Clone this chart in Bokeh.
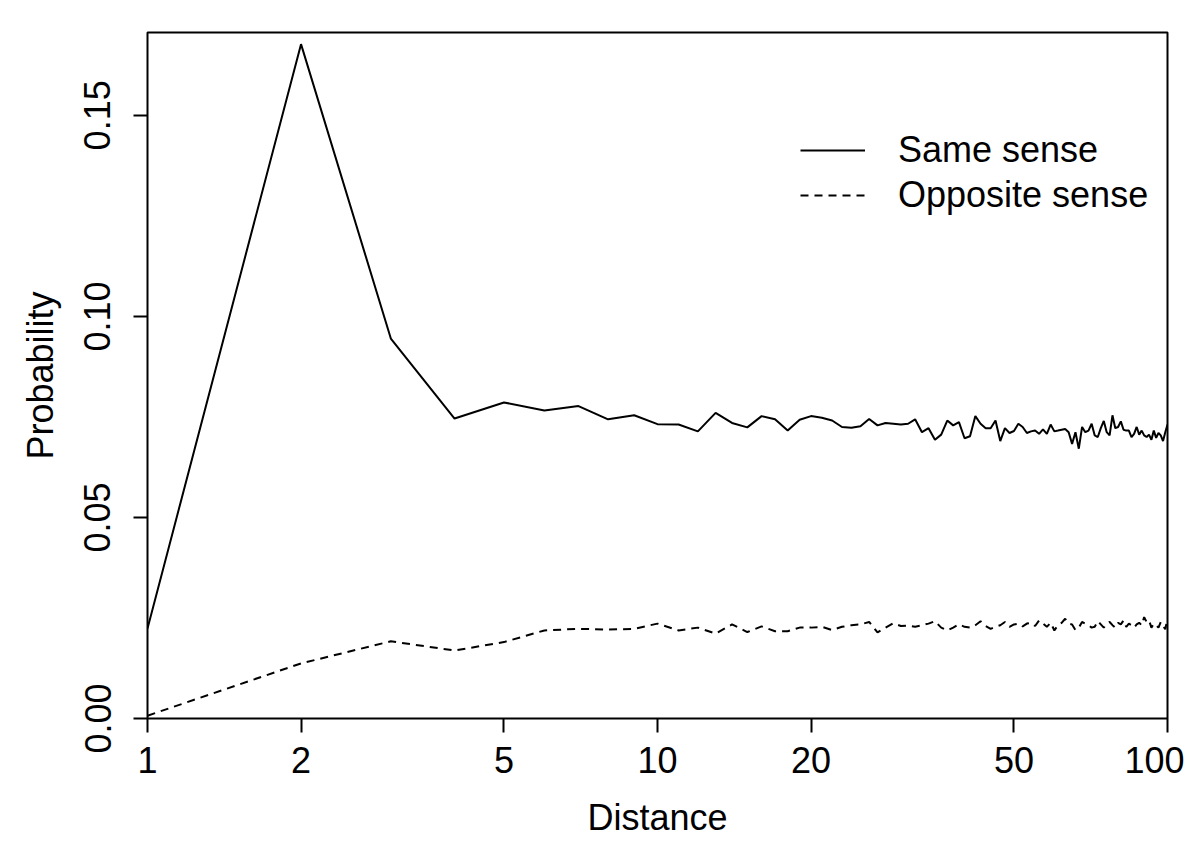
from bokeh.plotting import figure
from bokeh.models import FixedTicker, Range1d
from bokeh.embed import file_html
from bokeh.resources import INLINE

distance = list(range(1, 101))

same_sense = [
    0.0224, 0.1677, 0.0945, 0.0746, 0.0786, 0.0766, 0.0777, 0.0744, 0.0754, 0.0732,
    0.0731, 0.0714, 0.0760, 0.0735, 0.0724, 0.0752, 0.0744, 0.0716, 0.0743, 0.0752,
    0.0748, 0.0741, 0.0725, 0.0723, 0.0727, 0.0745, 0.0729, 0.0735, 0.0733, 0.0731,
    0.0733, 0.0744, 0.0712, 0.0722, 0.0693, 0.0706, 0.0741, 0.0729, 0.0737, 0.0697,
    0.0702, 0.0752, 0.0733, 0.0722, 0.0722, 0.0741, 0.0690, 0.0722, 0.0710, 0.0715,
    0.0733, 0.0725, 0.0710, 0.0714, 0.0716, 0.0708, 0.0719, 0.0708, 0.0731, 0.0714,
    0.0716, 0.0718, 0.0720, 0.0712, 0.0683, 0.0712, 0.0671, 0.0725, 0.0712, 0.0716,
    0.0733, 0.0704, 0.0700, 0.0722, 0.0740, 0.0712, 0.0704, 0.0754, 0.0722, 0.0725,
    0.0739, 0.0718, 0.0716, 0.0716, 0.0700, 0.0708, 0.0725, 0.0706, 0.0716, 0.0704,
    0.0700, 0.0706, 0.0693, 0.0716, 0.0698, 0.0710, 0.0704, 0.0690, 0.0712, 0.0731,
]

opposite_sense = [
    0.0007, 0.0137, 0.0192, 0.0169, 0.0190, 0.0219, 0.0223, 0.0221, 0.0223, 0.0236,
    0.0219, 0.0226, 0.0211, 0.0234, 0.0215, 0.0229, 0.0217, 0.0217, 0.0226, 0.0226,
    0.0228, 0.0220, 0.0228, 0.0232, 0.0234, 0.0240, 0.0214, 0.0226, 0.0237, 0.0230,
    0.0231, 0.0228, 0.0232, 0.0236, 0.0242, 0.0226, 0.0219, 0.0226, 0.0234, 0.0228,
    0.0226, 0.0232, 0.0242, 0.0230, 0.0223, 0.0228, 0.0232, 0.0240, 0.0228, 0.0234,
    0.0236, 0.0229, 0.0236, 0.0238, 0.0230, 0.0244, 0.0236, 0.0228, 0.0238, 0.0219,
    0.0232, 0.0238, 0.0248, 0.0236, 0.0234, 0.0220, 0.0226, 0.0240, 0.0236, 0.0232,
    0.0226, 0.0228, 0.0242, 0.0234, 0.0226, 0.0236, 0.0240, 0.0232, 0.0226, 0.0238,
    0.0234, 0.0244, 0.0228, 0.0236, 0.0232, 0.0226, 0.0234, 0.0238, 0.0232, 0.0252,
    0.0240, 0.0244, 0.0226, 0.0236, 0.0232, 0.0226, 0.0240, 0.0230, 0.0222, 0.0248,
]

x_ticks = [1, 2, 5, 10, 20, 50, 100]
x_tick_labels = ["1", "2", "5", "10", "20", "50", "100"]
y_ticks = [0.0, 0.05, 0.10, 0.15]
y_tick_labels = ["0.00", "0.05", "0.10", "0.15"]
series_labels = ["Same sense", "Opposite sense"]

FONT = "Liberation Sans"
FS = "36px"

p = figure(
    width=1184, height=851,
    x_axis_type="log",
    x_range=Range1d(1, 100), y_range=Range1d(0, 0.1706),
    output_backend="svg", toolbar_location=None,
    min_border_left=147, min_border_right=17,
    min_border_top=32, min_border_bottom=133,
    x_axis_label="Distance", y_axis_label="Probability",
)
p.grid.visible = False
p.outline_line_color = "black"
p.outline_line_width = 2
p.background_fill_color = "white"
p.border_fill_color = "white"

for ax in (p.xaxis[0], p.yaxis[0]):
    ax.axis_line_color = None
    ax.major_tick_in = 0
    ax.major_tick_out = 14
    ax.major_tick_line_width = 2
    ax.major_tick_line_color = "black"
    ax.minor_tick_line_color = None
    ax.major_label_text_font = FONT
    ax.major_label_text_font_size = FS
    ax.major_label_text_color = "black"
    ax.axis_label_text_font = FONT
    ax.axis_label_text_font_size = FS
    ax.axis_label_text_font_style = "normal"
    ax.axis_label_text_color = "black"

p.xaxis[0].ticker = FixedTicker(ticks=x_ticks)
p.xaxis[0].major_label_overrides = {t: l for t, l in zip(x_ticks, x_tick_labels)}
p.xaxis[0].major_label_standoff = 14
p.xaxis[0].axis_label_standoff = 21

p.yaxis[0].ticker = FixedTicker(ticks=y_ticks)
p.yaxis[0].major_label_overrides = {t: l for t, l in zip(y_ticks, y_tick_labels)}
p.yaxis[0].major_label_orientation = "vertical"
p.yaxis[0].major_label_standoff = 23
p.yaxis[0].axis_label_standoff = 21

p.line(distance, same_sense, line_color="black", line_width=2,
       legend_label=series_labels[0])
p.line(distance, opposite_sense, line_color="black", line_width=2,
       line_dash="8 6", legend_label=series_labels[1])

lg = p.legend[0]
lg.location = (653, 502)
lg.border_line_color = None
lg.background_fill_alpha = 0
lg.padding = 0
lg.margin = 0
lg.spacing = 3
lg.glyph_width = 65
lg.glyph_height = 40
lg.label_height = 40
lg.label_standoff = 33
lg.label_text_font = FONT
lg.label_text_font_size = FS
lg.label_text_color = "black"

open("out.html", "w").write(file_html(p, INLINE))
